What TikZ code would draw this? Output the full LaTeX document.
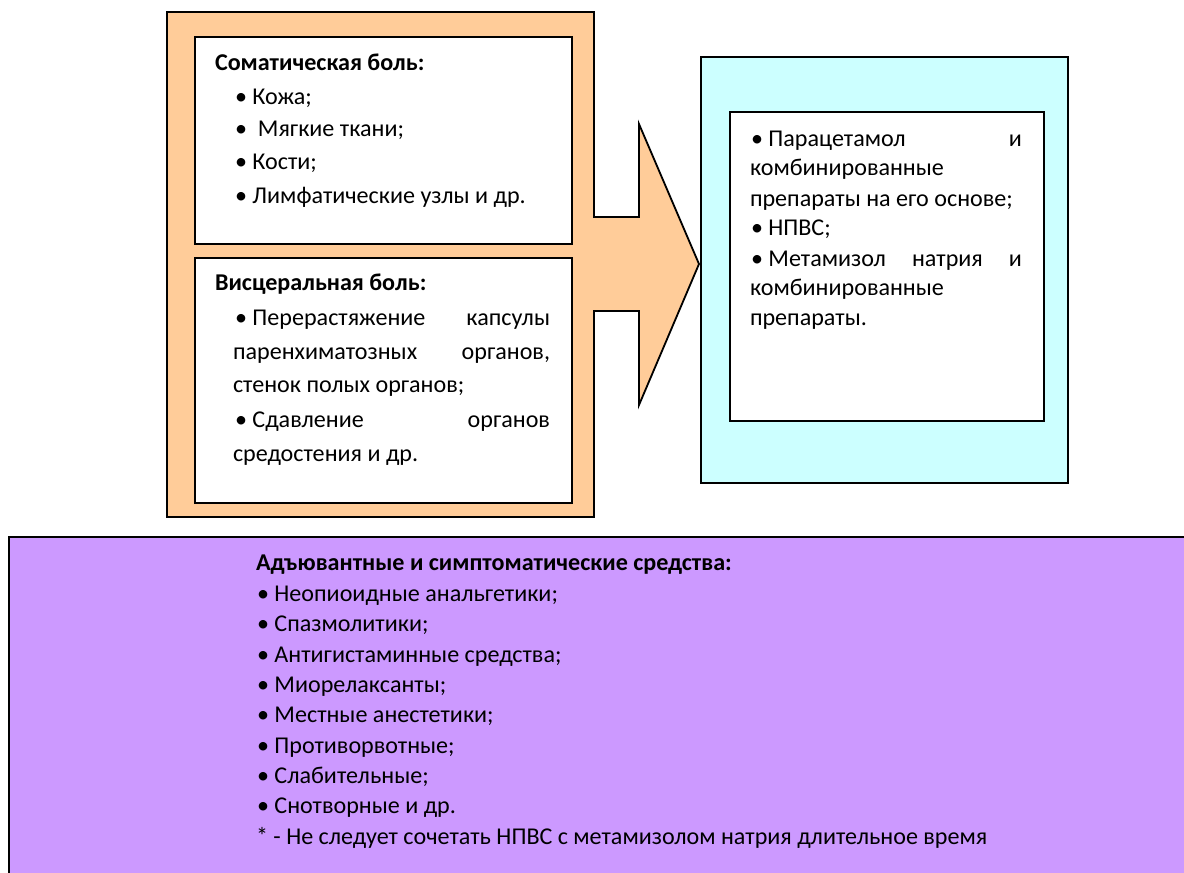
\documentclass[tikz,border=0pt]{standalone}
\usepackage{fontspec}
\setmainfont{Carlito}
\definecolor{orangefill}{RGB}{255,204,153}
\definecolor{bluefill}{RGB}{204,255,255}
\definecolor{purplefill}{RGB}{204,153,255}
\begin{document}
\begin{tikzpicture}[x=1pt,y=-1pt,
  frame/.style={draw=black,line width=1.8pt},
  txt/.style={anchor=base west,inner sep=0pt,outer sep=0pt,font=\fontsize{24.1}{28}\selectfont},
  head/.style={txt,font=\fontsize{24.1}{28}\selectfont\bfseries}]
\useasboundingbox (0,0) rectangle (1184,873);
% orange block arrow
\draw[frame,fill=orangefill,line join=miter] (167,12) -- (594,12) -- (594,217) -- (639,217) -- (639,124) -- (699,264) -- (639,405) -- (639,311) -- (594,311) -- (594,517) -- (167,517) -- cycle;
\node[frame,fill=white,minimum width=377pt,minimum height=207pt,anchor=north west,inner sep=0pt] (soma) at (194,36) {};
\node[frame,fill=white,minimum width=377pt,minimum height=245pt,anchor=north west,inner sep=0pt] (visc) at (194,257) {};
% blue box
\node[frame,fill=bluefill,minimum width=367pt,minimum height=426pt,anchor=north west,inner sep=0pt] (blue) at (700,56) {};
\node[frame,fill=white,minimum width=314pt,minimum height=309pt,anchor=north west,inner sep=0pt] (drugs) at (729,111) {};
% purple box
\node[frame,fill=purplefill,minimum width=1182pt,minimum height=344pt,anchor=north west,inner sep=0pt] (adj) at (8,536) {};
% somatic text
\node[head] (s0) at (215,70) {Соматическая боль:};
\node[txt] (s1) at (235,104) {• Кожа;};
\node[txt] (s2) at (235,136) {•\ \ Мягкие ткани;};
\node[txt] (s3) at (235,169) {• Кости;};
\node[txt] (s4) at (235,203) {• Лимфатические узлы и др.};
% visceral text
\node[head] (v0) at (215,290) {Висцеральная боль:};
\node[txt] (v1) at (235,325) {\hbox to 315pt{•~Перерастяжение\hfill капсулы}};
\node[txt] (v2) at (233,359) {\hbox to 317pt{паренхиматозных\hfill органов,}};
\node[txt] (v3) at (233,392) {стенок полых органов;};
\node[txt] (v4) at (235,427) {\hbox to 315pt{•~Сдавление\hfill органов}};
\node[txt] (v5) at (233,461) {средостения и др.};
% drugs text
\node[txt] (b1) at (751,146) {\hbox to 271pt{•~Парацетамол\hfill и}};
\node[txt] (b2) at (750,175) {комбинированные};
\node[txt] (b3) at (750,206) {препараты на его основе;};
\node[txt] (b4) at (751,235) {• НПВС;};
\node[txt] (b5) at (751,266) {\hbox to 271pt{•~Метамизол\hfill натрия\hfill и}};
\node[txt] (b6) at (750,295) {комбинированные};
\node[txt] (b7) at (750,325) {препараты.};
% adjuvant text
\node[head] (p0) at (256,570) {Адъювантные и симптоматические средства:};
\node[txt] (p1) at (257,601.5) {• Неопиоидные анальгетики;};
\node[txt] (p2) at (257,631.8) {• Спазмолитики;};
\node[txt] (p3) at (257,662.1) {• Антигистаминные средства;};
\node[txt] (p4) at (257,692.4) {• Миорелаксанты;};
\node[txt] (p5) at (257,722.7) {• Местные анестетики;};
\node[txt] (p6) at (257,753) {• Противорвотные;};
\node[txt] (p7) at (257,783.3) {• Слабительные;};
\node[txt] (p8) at (257,813.6) {• Снотворные и др.};
\node[txt] (p9) at (256,844) {* - Не следует сочетать НПВС с метамизолом натрия длительное время};
\end{tikzpicture}
\end{document}
